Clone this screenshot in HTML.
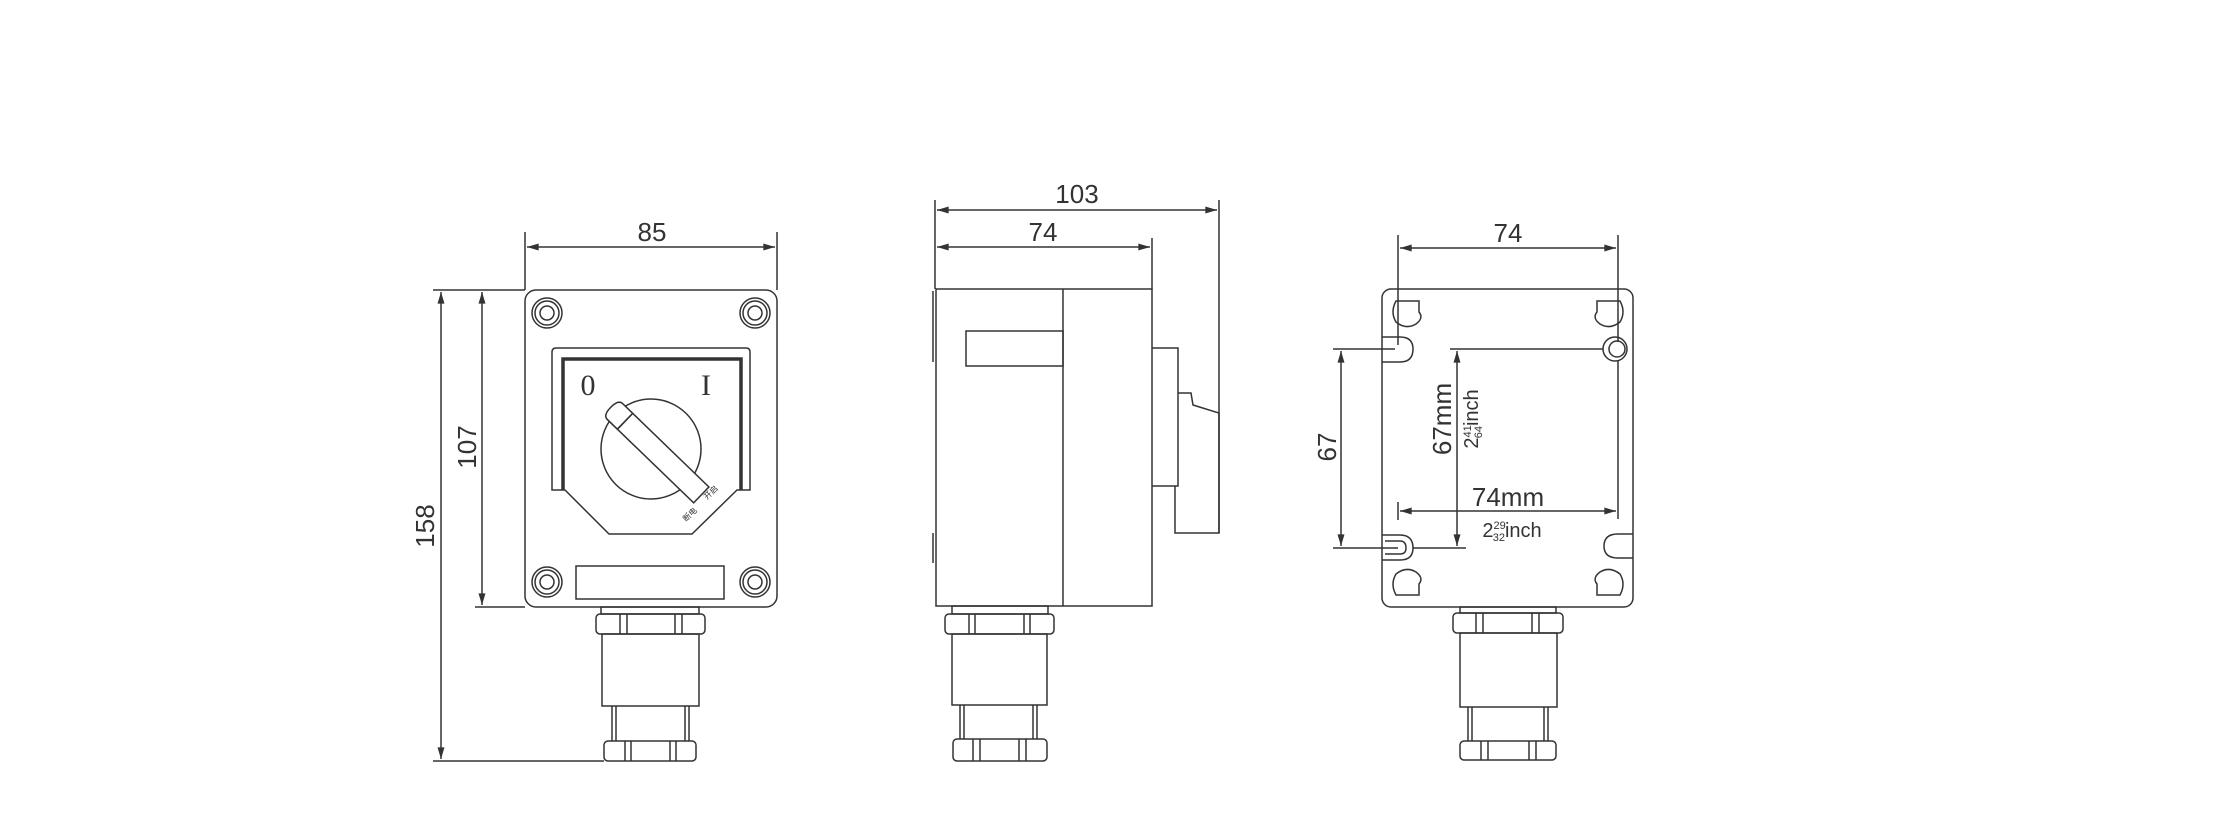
<!DOCTYPE html>
<html><head><meta charset="utf-8"><style>
html,body{margin:0;padding:0;background:#fff;}
svg{display:block;}
text{font-family:"Liberation Sans","Noto Sans CJK SC",sans-serif;fill:#333;}
</style></head><body>
<svg width="2238" height="833" viewBox="0 0 2238 833" xmlns="http://www.w3.org/2000/svg">
<defs>
<marker id="a" viewBox="0 0 10 6" refX="10" refY="3" markerWidth="16" markerHeight="7" orient="auto-start-reverse" markerUnits="userSpaceOnUse"><path d="M0,0 L10,3 L0,6 z" fill="#333"/></marker>
</defs>
<g fill="none" stroke="#333" stroke-width="1.5">
<!-- ============ FRONT VIEW ============ -->
<rect x="525" y="290" width="252" height="317" rx="11"/>
<!-- dims -->
<line x1="525" y1="232" x2="525" y2="290"/>
<line x1="777" y1="232" x2="777" y2="290"/>
<line x1="527" y1="247" x2="775" y2="247" marker-start="url(#a)" marker-end="url(#a)"/>
<line x1="433" y1="290" x2="525" y2="290"/>
<line x1="475" y1="607" x2="525" y2="607"/>
<line x1="433" y1="761" x2="604" y2="761"/>
<line x1="441" y1="292" x2="441" y2="759" marker-start="url(#a)" marker-end="url(#a)"/>
<line x1="482" y1="292" x2="482" y2="605" marker-start="url(#a)" marker-end="url(#a)"/>
<!-- screws -->
<circle cx="547" cy="313" r="15"/><circle cx="547" cy="313" r="12"/><circle cx="547" cy="313" r="7"/>
<circle cx="755" cy="313" r="15"/><circle cx="755" cy="313" r="12"/><circle cx="755" cy="313" r="7"/>
<circle cx="547" cy="582" r="15"/><circle cx="547" cy="582" r="12"/><circle cx="547" cy="582" r="7"/>
<circle cx="755" cy="582" r="15"/><circle cx="755" cy="582" r="12"/><circle cx="755" cy="582" r="7"/>
<!-- panel -->
<path d="M552,490 L552,352 Q552,348 556,348 L746,348 Q750,348 750,352 L750,490 L737,490 L692,534 L609,534 L565,490 Z"/>
<path d="M563,490 L563,359 L741,359 L741,490" stroke-width="3.5"/>
<!-- knob -->
<circle cx="651" cy="449" r="50"/>
<g transform="translate(661,456) rotate(44)">
<rect x="-64" y="-11" width="120" height="22" fill="#fff"/>
<path d="M-50,-11 L-64,-11 Q-70,-11 -70,0 Q-70,11 -64,11 L-50,11 Z" fill="#fff"/>
<line x1="-50" y1="-11" x2="-50" y2="11"/>
</g>
<!-- label bar -->
<rect x="576" y="566" width="148" height="33"/>
<!-- gland -->
<rect x="601" y="607" width="98" height="7"/>
<rect x="596" y="614" width="109" height="20" rx="4"/>
<line x1="620" y1="614" x2="620" y2="634"/><line x1="627" y1="614" x2="627" y2="634"/>
<line x1="675" y1="614" x2="675" y2="634"/><line x1="682" y1="614" x2="682" y2="634"/>
<rect x="602" y="634" width="97" height="72"/>
<line x1="612" y1="706" x2="612" y2="741"/><line x1="616" y1="706" x2="616" y2="741"/>
<line x1="685" y1="706" x2="685" y2="741"/><line x1="689" y1="706" x2="689" y2="741"/>
<rect x="604" y="741" width="92" height="20" rx="4"/>
<line x1="625" y1="741" x2="625" y2="761"/><line x1="631" y1="741" x2="631" y2="761"/>
<line x1="670" y1="741" x2="670" y2="761"/><line x1="676" y1="741" x2="676" y2="761"/>

<!-- ============ SIDE VIEW ============ -->
<rect x="936" y="289" width="216" height="317"/>
<line x1="1063" y1="289" x2="1063" y2="606"/>
<rect x="966" y="331" width="97" height="35"/>
<path d="M933,291 L933,362 M933,533 L933,563"/>
<path d="M1152,348 L1178,348 L1178,486 L1152,486"/>
<path d="M1178,393 L1191,393 L1193,405 L1219,413 L1219,533 L1175,533 L1175,486"/>
<line x1="935" y1="200" x2="935" y2="289"/>
<line x1="1219" y1="200" x2="1219" y2="533"/>
<line x1="1152" y1="238" x2="1152" y2="289"/>
<line x1="937" y1="210" x2="1217" y2="210" marker-start="url(#a)" marker-end="url(#a)"/>
<line x1="937" y1="247" x2="1150" y2="247" marker-start="url(#a)" marker-end="url(#a)"/>
<rect x="952" y="606" width="96" height="8"/>
<rect x="945" y="614" width="109" height="20" rx="4"/>
<line x1="969" y1="614" x2="969" y2="634"/><line x1="975" y1="614" x2="975" y2="634"/>
<line x1="1024" y1="614" x2="1024" y2="634"/><line x1="1030" y1="614" x2="1030" y2="634"/>
<rect x="952" y="634" width="95" height="71"/>
<line x1="960" y1="705" x2="960" y2="739"/><line x1="964" y1="705" x2="964" y2="739"/>
<line x1="1033" y1="705" x2="1033" y2="739"/><line x1="1037" y1="705" x2="1037" y2="739"/>
<rect x="953" y="739" width="94" height="22" rx="4"/>
<line x1="973" y1="739" x2="973" y2="761"/><line x1="980" y1="739" x2="980" y2="761"/>
<line x1="1019" y1="739" x2="1019" y2="761"/><line x1="1026" y1="739" x2="1026" y2="761"/>

<!-- ============ REAR VIEW ============ -->
<rect x="1382" y="289" width="251" height="318" rx="9"/>
<!-- corner keyholes -->
<path d="M1396,301 L1419,301 L1419,312 Q1424,318 1416,324 Q1406,330 1396,322 Q1390,312 1396,301 Z"/>
<path d="M1620,301 L1597,301 L1597,312 Q1592,318 1600,324 Q1610,330 1620,322 Q1626,312 1620,301 Z"/>
<path d="M1396,595 L1419,595 L1419,584 Q1424,578 1416,572 Q1406,566 1396,574 Q1390,584 1396,595 Z"/>
<path d="M1620,595 L1597,595 L1597,584 Q1592,578 1600,572 Q1610,566 1620,574 Q1626,584 1620,595 Z"/>
<!-- slots -->
<path d="M1382,337 L1400,337 Q1413,337 1413,349 Q1413,362 1400,362 L1382,362"/>
<path d="M1382,535 L1400,535 Q1413,535 1413,548 Q1413,560 1400,560 L1382,560"/>
<path d="M1385,541 L1400,541 Q1406,541 1406,548 Q1406,554 1400,554 L1385,554"/>
<circle cx="1615" cy="349" r="12"/><circle cx="1617" cy="349" r="8"/>
<path d="M1633,534 L1618,534 Q1604,534 1604,546 Q1604,558 1618,558 L1633,558"/>
<!-- dims -->
<line x1="1398" y1="235" x2="1398" y2="345"/>
<line x1="1618" y1="235" x2="1618" y2="342"/>
<line x1="1618" y1="360" x2="1618" y2="519"/>
<line x1="1400" y1="248" x2="1616" y2="248" marker-start="url(#a)" marker-end="url(#a)"/>
<line x1="1333" y1="349" x2="1395" y2="349"/>
<line x1="1333" y1="548" x2="1398" y2="548"/>
<line x1="1413" y1="548" x2="1466" y2="548"/>
<line x1="1341" y1="351" x2="1341" y2="546" marker-start="url(#a)" marker-end="url(#a)"/>
<line x1="1450" y1="349" x2="1603" y2="349"/>
<line x1="1457" y1="351" x2="1457" y2="546" marker-start="url(#a)" marker-end="url(#a)"/>
<line x1="1398" y1="502" x2="1398" y2="520"/>
<line x1="1400" y1="511" x2="1616" y2="511" marker-start="url(#a)" marker-end="url(#a)"/>
<!-- gland -->
<rect x="1460" y="607" width="96" height="6"/>
<rect x="1453" y="613" width="110" height="20" rx="4"/>
<line x1="1476" y1="613" x2="1476" y2="633"/><line x1="1483" y1="613" x2="1483" y2="633"/>
<line x1="1532" y1="613" x2="1532" y2="633"/><line x1="1539" y1="613" x2="1539" y2="633"/>
<rect x="1460" y="633" width="97" height="74"/>
<line x1="1468" y1="707" x2="1468" y2="741"/><line x1="1472" y1="707" x2="1472" y2="741"/>
<line x1="1544" y1="707" x2="1544" y2="741"/><line x1="1548" y1="707" x2="1548" y2="741"/>
<rect x="1460" y="741" width="96" height="19" rx="4"/>
<line x1="1481" y1="741" x2="1481" y2="760"/><line x1="1488" y1="741" x2="1488" y2="760"/>
<line x1="1529" y1="741" x2="1529" y2="760"/><line x1="1536" y1="741" x2="1536" y2="760"/>
</g>

<!-- texts -->
<text x="652" y="241" font-size="26" text-anchor="middle">85</text>
<text transform="translate(434,526) rotate(-90)" font-size="26" text-anchor="middle">158</text>
<text transform="translate(476,447) rotate(-90)" font-size="26" text-anchor="middle">107</text>
<text x="588" y="395" font-size="30" text-anchor="middle" style="font-family:'Liberation Serif',serif">0</text>
<text x="706" y="395" font-size="30" text-anchor="middle" style="font-family:'Liberation Serif',serif">I</text>
<text transform="translate(686,522) rotate(-44)" font-size="8">断电</text>
<text transform="translate(707,500) rotate(-44)" font-size="8">开启</text>
<text x="1077" y="203" font-size="26" text-anchor="middle">103</text>
<text x="1043" y="241" font-size="26" text-anchor="middle">74</text>
<text x="1508" y="242" font-size="26" text-anchor="middle">74</text>
<text transform="translate(1336,447) rotate(-90)" font-size="26" text-anchor="middle">67</text>
<text transform="translate(1451,419) rotate(-90)" font-size="26" text-anchor="middle">67mm</text>
<text transform="translate(1478,419) rotate(-90)" font-size="20" text-anchor="middle">2<tspan font-size="11" dy="-7">41</tspan><tspan font-size="11" dx="-13" dy="11">64</tspan><tspan dy="-4">inch</tspan></text>
<text x="1508" y="506" font-size="26" text-anchor="middle">74mm</text>
<text x="1512" y="537" font-size="20" text-anchor="middle">2<tspan font-size="11" dy="-8">29</tspan><tspan font-size="11" dx="-13" dy="12">32</tspan><tspan dy="-4">inch</tspan></text>
</svg>
</body></html>
